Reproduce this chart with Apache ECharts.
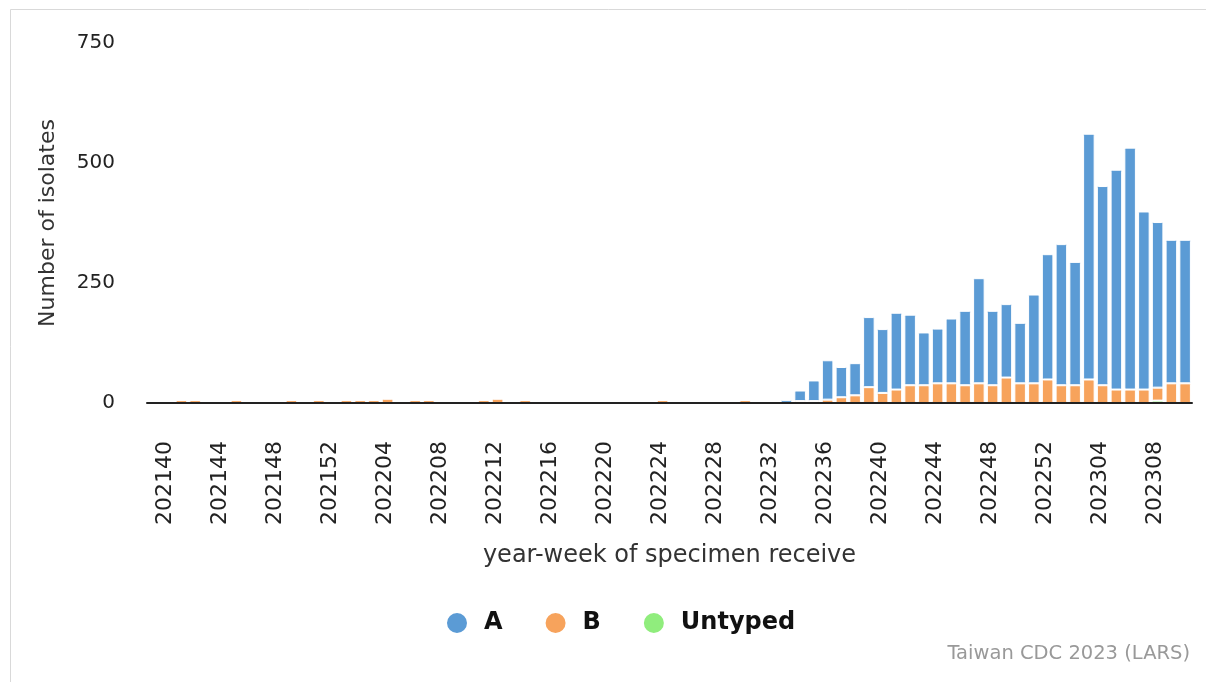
<!DOCTYPE html>
<html><head><meta charset="utf-8">
<script src="https://cdn.jsdelivr.net/npm/echarts@6.0.0/dist/echarts.min.js"></script>
<style>html,body{margin:0;padding:0;background:#fff}#c{width:1206px;height:682px}</style>
</head><body><div id="c"></div>
<script>
const categories = [
  '202140','202141','202142','202143','202144','202145','202146','202147','202148','202149','202150','202151','202152',
  '202201','202202','202203','202204','202205','202206','202207','202208','202209','202210','202211','202212','202213',
  '202214','202215','202216','202217','202218','202219','202220','202221','202222','202223','202224','202225','202226',
  '202227','202228','202229','202230','202231','202232','202233','202234','202235','202236','202237','202238','202239',
  '202240','202241','202242','202243','202244','202245','202246','202247','202248','202249','202250','202251','202252',
  '202301','202302','202303','202304','202305','202306','202307','202308','202309','202310','202311'
];
const seriesA = [
  0,0,0,0,0,0,0,0,0,0,0,0,0,
  0,0,0,0,0,0,0,0,0,0,0,0,0,
  0,0,0,0,0,0,0,0,0,0,0,0,0,
  0,0,0,0,0,0,0,6,22,43,82,63,67,
  146,133,160,147,110,114,135,155,219,155,153,126,185,
  261,294,257,512,415,458,504,371,345,299,299
];
const seriesB = [
  0,0,6,6,0,0,6,0,0,0,6,0,6,
  0,6,6,6,9,0,6,6,0,0,0,6,9,
  0,6,0,0,0,0,0,0,0,0,0,6,0,
  0,0,0,0,6,0,0,0,4,4,7,12,16,
  33,21,28,37,37,41,41,37,41,37,53,41,41,
  49,37,37,49,37,28,28,28,27,41,41
];
const seriesUntyped = [
  0,0,0,0,0,0,0,0,0,0,0,0,0,
  0,0,0,0,0,0,0,0,0,0,0,0,0,
  0,0,0,0,0,0,0,0,0,0,0,0,0,
  0,0,0,0,0,0,0,0,0,0,0,0,0,
  0,0,0,0,0,0,0,0,0,0,0,0,0,
  0,0,0,0,0,0,0,0,5,0,0
];
const yMax = 750, yStep = 250;
const FONT = 'DejaVu Sans';
const colors = {A:'#5b9bd5', B:'#f7a35c', Untyped:'#90ed7d'};

function barSeries(name, data){
  return {
    name, type:'bar', stack:'total', data,
    barCategoryGap:'16%',
    itemStyle:{color:colors[name], borderColor:'#fff', borderWidth:1, borderRadius:1},
    emphasis:{disabled:true}
  };
}

const chart = echarts.init(document.getElementById('c'), null, {renderer:'canvas'});
chart.setOption({
  animation:false,
  backgroundColor:'#fff',
  textStyle:{fontFamily:FONT},
  grid:{left:147, right:14, top:43, bottom:279, containLabel:false},
  legend:{
    data:['A','B','Untyped'],
    icon:'circle', itemWidth:22, itemHeight:22, itemGap:41,
    left:440, top:606,
    textStyle:{fontFamily:FONT, fontSize:24, fontWeight:'bold', color:'#111', padding:[0,0,0,11]}
  },
  xAxis:{
    type:'category', data:categories, z:10,
    axisLine:{show:true, lineStyle:{color:'#222', width:2}},
    axisTick:{show:false},
    axisLabel:{interval:3, rotate:90, margin:38, fontSize:22, color:'#222', fontFamily:FONT, verticalAlign:'top'},
    name:'year-week of specimen receive', nameLocation:'middle', nameGap:141,
    nameTextStyle:{fontSize:24, color:'#333', fontFamily:FONT},
    splitLine:{show:false}
  },
  yAxis:{
    type:'value', min:0, max:yMax, interval:yStep,
    axisLine:{show:false}, axisTick:{show:false}, splitLine:{show:false},
    axisLabel:{fontSize:20, color:'#222', margin:32, fontFamily:FONT},
    name:'Number of isolates', nameLocation:'middle', nameGap:88, nameRotate:90,
    nameTextStyle:{fontSize:22, color:'#333', fontFamily:FONT}
  },
  series:[
    barSeries('Untyped', seriesUntyped),
    barSeries('B', seriesB),
    barSeries('A', seriesA)
  ],
  graphic:[
    {type:'rect', z:-10, shape:{x:10.5, y:9.5, width:1220, height:700}, style:{fill:'none', stroke:'#d9d9d9', lineWidth:1}},
    {type:'text', right:16, top:644, style:{text:'Taiwan CDC 2023 (LARS)', fill:'#999', font:'19.5px "DejaVu Sans"'}}
  ]
});
</script></body></html>
